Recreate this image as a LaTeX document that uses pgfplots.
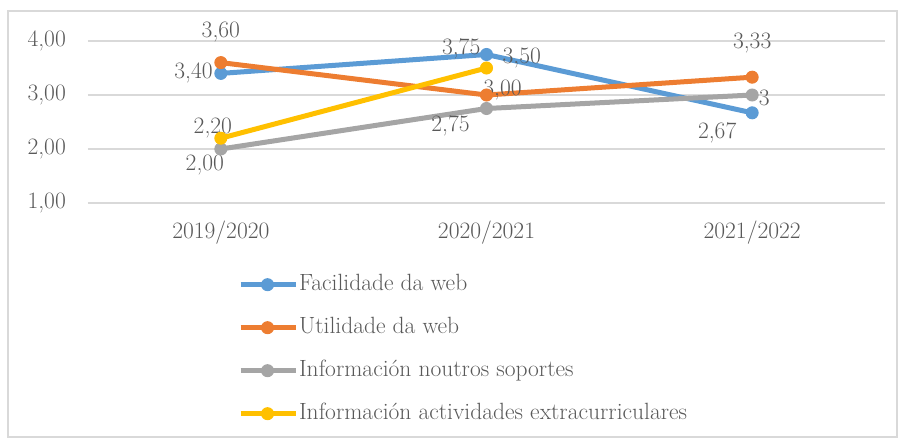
\documentclass[border=0pt]{standalone}
\usepackage{fontspec}
\usepackage{pgfplots}
\pgfplotsset{compat=1.18}
\definecolor{fac}{HTML}{5B9BD5}
\definecolor{uti}{HTML}{ED7D31}
\definecolor{nou}{HTML}{A5A5A5}
\definecolor{ext}{HTML}{FFC000}
\definecolor{txt}{HTML}{595959}
\definecolor{grd}{HTML}{D9D9D9}
\newcommand{\chartfont}{\fontsize{23.5}{28}\selectfont}
\tikzset{lbl/.style={text=txt, inner sep=0pt, font=\chartfont}}
\begin{document}
\chartfont
\begin{tikzpicture}
\begin{axis}[
  scale only axis,
  width=797pt, height=162pt,
  xmin=-0.5, xmax=2.5, ymin=1, ymax=4,
  clip=false,
  axis line style={draw=none},
  xtick={0,1,2},
  xticklabels={2019/2020,2020/2021,2021/2022},
  ytick={1,2,3,4},
  major tick length=0pt,
  ymajorgrids, grid style={grd, line width=1.3pt},
  /pgf/number format/fixed, /pgf/number format/fixed zerofill,
  /pgf/number format/precision=2, /pgf/number format/use comma,
  /pgf/number format/assume math mode=true,
  yticklabel style={anchor=east, inner sep=0pt, xshift=-22pt},
  xticklabel style={anchor=base, inner sep=0pt, yshift=-35pt},
  tick label style={text=txt, font=\chartfont},
  every axis plot/.append style={line width=5pt, mark=*, mark size=6pt, mark options={line width=1pt}},
  legend image code/.code={\draw[mark repeat=2, mark phase=2] plot coordinates {(0pt,0pt) (27pt,0pt) (55pt,0pt)};},
  legend cell align=left,
  legend style={draw=none, fill=none, at={(rel axis cs:0.188,-0.432)}, anchor=north west,
    inner sep=0pt, row sep=20pt, font=\chartfont, text=txt,
    nodes={inner ysep=0pt, inner xsep=1pt, text height=17pt, text depth=6pt}},
]
\addplot[fac] coordinates {(0,3.40) (1,3.75) (2,2.67)};
\addlegendentry{Facilidade da web}
\addplot[uti] coordinates {(0,3.60) (1,3.00) (2,3.33)};
\addlegendentry{Utilidade da web}
\addplot[nou] coordinates {(0,2.00) (1,2.75) (2,3.00)};
\addlegendentry{Información noutros soportes}
\addplot[ext] coordinates {(0,2.20) (1,3.50)};
\addlegendentry{Información actividades extracurriculares}

% data labels
\node[lbl, anchor=east] at (axis cs:0,3.40) [xshift=-8pt] {3,40};
\node[lbl, anchor=east] at (axis cs:1,3.75) [xshift=-6pt, yshift=6pt] {3,75};
\node[lbl] at (axis cs:2,2.67) [xshift=-35pt, yshift=-20pt] {2,67};
\node[lbl] at (axis cs:0,3.60) [yshift=31pt] {3,60};
\node[lbl] at (axis cs:1,3.00) [xshift=16pt, yshift=5pt] {3,00};
\node[lbl] at (axis cs:2,3.33) [yshift=34pt] {3,33};
\node[lbl] at (axis cs:0,2.00) [xshift=-16pt, yshift=-16pt] {2,00};
\node[lbl] at (axis cs:1,2.75) [xshift=-36pt, yshift=-17pt] {2,75};
\node[lbl] at (axis cs:2,3.00) [xshift=12pt, yshift=-3pt] {3};
\node[lbl] at (axis cs:0,2.20) [xshift=-8pt, yshift=10pt] {2,20};
\node[lbl, anchor=west] at (axis cs:1,3.50) [xshift=16pt, yshift=10pt] {3,50};
\end{axis}
\draw[grd, line width=1.3pt] (-80pt,-234pt) rectangle (809pt,192pt);
\pgfresetboundingbox
\path[use as bounding box] (-88pt,-236pt) rectangle (811pt,203pt);
\end{tikzpicture}
\end{document}
